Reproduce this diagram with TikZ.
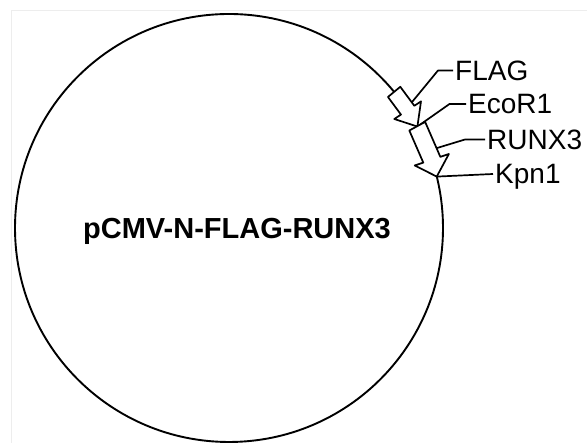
\documentclass[tikz,border=0pt]{standalone}
\usepackage{fontspec}
\setmainfont{Liberation Sans}
\newcommand{\labfont}{\fontsize{28}{30}\selectfont}
\newcommand{\namefont}{\bfseries\fontsize{29}{32}\selectfont}
\begin{document}
\begin{tikzpicture}[x=1pt,y=1pt,line join=round,
  lab/.style={inner xsep=2pt,inner ysep=0pt,text height=20pt,text depth=0pt,anchor=west,font=\labfont},
  leader/.style={line width=1.7pt},
  featarrow/.style={draw,fill=white,line width=1.7pt}]
\useasboundingbox (0,0) rectangle (587,443);
\fill[white] (0,0) rectangle (587,443);
\draw[black!7,line width=0.8pt] (11,0) -- (11,433) -- (587,433);
\coordinate (C) at (229,215);
\draw[line width=1.9pt] (C) circle (214);
\node[font=\namefont,inner sep=0pt] (name) at (237,212) {pCMV-N-FLAG-RUNX3};
\begin{scope}[shift={(C)}]
  \coordinate (flagmid) at (33.9:214);
  \coordinate (ecosite) at (28.3:214);
  \coordinate (runxmid) at (21.2:214);
  \coordinate (kpnsite) at (13.9:214);
\end{scope}
% labels
\node[lab] (flag) at (453,372.5) {FLAG};
\node[lab] (eco) at (466,339) {EcoR1};
\node[lab] (runx) at (485,303.5) {RUNX3};
\node[lab] (kpn) at (493,269) {Kpn1};
% leaders
\coordinate (flagel) at (438,372.5);
\coordinate (ecoel) at (449.5,339);
\coordinate (runxel) at (465,303.5);
\draw[leader] (flagmid) -- (flagel) -- (flag.west);
\draw[leader] (ecosite) -- (ecoel) -- (eco.west);
\draw[leader] (runxmid) -- (runxel) -- (runx.west);
\draw[leader] (kpnsite) -- (kpn.west);
% feature arrows
\begin{scope}[shift={(C)}]
  \draw[featarrow] (39.5:222) -- (33.4:222) -- (33.4:230) -- (28.3:214) -- (33.4:198) -- (33.4:206) -- (39.5:206) -- cycle;
  \draw[featarrow] (28.4:223) -- (18.6:223) -- (18.6:232) -- (13.9:214) -- (18.6:196) -- (18.6:205) -- (28.4:205) -- cycle;
\end{scope}
\end{tikzpicture}
\end{document}
